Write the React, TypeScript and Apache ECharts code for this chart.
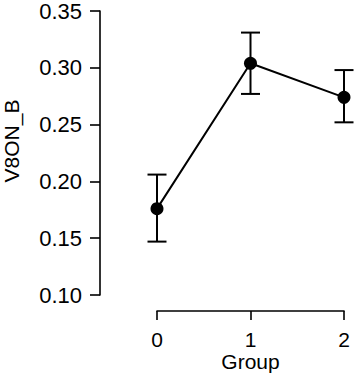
import React, { useEffect, useRef } from "react";
import * as echarts from "echarts";

const groups = [0, 1, 2];
const means = [0.176, 0.304, 0.274];
const lower = [0.147, 0.277, 0.252];
const upper = [0.206, 0.331, 0.298];
const yLabel = "V8ON_B";
const xLabel = "Group";

const FONT = "'Liberation Sans', Arial, Helvetica, sans-serif";

export default function App() {
  const ref = useRef<HTMLDivElement>(null);
  useEffect(() => {
    if (!ref.current) return;
    const chart = echarts.init(ref.current, undefined, { renderer: "svg" });
    chart.setOption({
      animation: false,
      backgroundColor: "#fff",
      textStyle: { fontFamily: FONT },
      grid: [
        { left: 157, right: 10, top: 10, bottom: 81 },
        { left: 157, right: 10, top: 310, height: 1 },
      ],
      xAxis: [
        { gridIndex: 0, type: "value", min: 0, max: 2, show: false },
        {
          gridIndex: 1,
          type: "value",
          min: 0,
          max: 2,
          interval: 1,
          axisLine: { show: true, onZero: false, lineStyle: { color: "#000", width: 1.6 } },
          axisTick: { show: true, length: 9, lineStyle: { color: "#000", width: 1.6 } },
          axisLabel: { color: "#000", fontSize: 21, margin: 18, fontFamily: FONT },
          splitLine: { show: false },
          name: xLabel,
          nameLocation: "middle",
          nameGap: 40,
          nameTextStyle: { color: "#000", fontSize: 21, fontFamily: FONT },
        },
      ],
      yAxis: [
        {
          gridIndex: 0,
          type: "value",
          position: "left",
          min: 0.1,
          max: 0.35,
          interval: 0.05,
          offset: 57,
          axisLine: { show: true, onZero: false, lineStyle: { color: "#000", width: 1.6 } },
          axisTick: { show: true, length: 10, lineStyle: { color: "#000", width: 1.6 } },
          axisLabel: {
            color: "#000",
            fontSize: 22,
            margin: 18,
            fontFamily: FONT,
            formatter: (v: number) => v.toFixed(2),
          },
          splitLine: { show: false },
        },
        { gridIndex: 1, type: "value", show: false },
      ],
      graphic: [
        {
          type: "text",
          x: 11,
          y: 141,
          rotation: Math.PI / 2,
          style: {
            text: yLabel,
            fill: "#000",
            fontSize: 21,
            fontFamily: FONT,
            align: "center",
            verticalAlign: "middle",
          },
        },
      ],
      series: [
        {
          type: "custom",
          xAxisIndex: 0,
          yAxisIndex: 0,
          clip: false,
          z: 2,
          data: groups.map((g, i) => [g, lower[i], upper[i]]),
          encode: { x: 0, y: [1, 2] },
          renderItem: (params: any, api: any) => {
            const x = api.value(0);
            const pLo = api.coord([x, api.value(1)]);
            const pHi = api.coord([x, api.value(2)]);
            const hw = 9.5;
            const st = { stroke: "#000", lineWidth: 2 };
            return {
              type: "group",
              children: [
                { type: "line", shape: { x1: pLo[0], y1: pLo[1], x2: pHi[0], y2: pHi[1] }, style: st },
                { type: "line", shape: { x1: pLo[0] - hw, y1: pLo[1], x2: pLo[0] + hw, y2: pLo[1] }, style: st },
                { type: "line", shape: { x1: pHi[0] - hw, y1: pHi[1], x2: pHi[0] + hw, y2: pHi[1] }, style: st },
              ],
            };
          },
        },
        {
          type: "line",
          xAxisIndex: 0,
          yAxisIndex: 0,
          z: 3,
          clip: false,
          data: groups.map((g, i) => [g, means[i]]),
          symbol: "circle",
          symbolSize: 13,
          showSymbol: true,
          itemStyle: { color: "#000" },
          lineStyle: { color: "#000", width: 2 },
        },
      ],
    });
    return () => chart.dispose();
  }, []);
  return (
    <div
      ref={ref}
      style={{ position: "fixed", left: 0, top: 0, width: 354, height: 376 }}
    />
  );
}
